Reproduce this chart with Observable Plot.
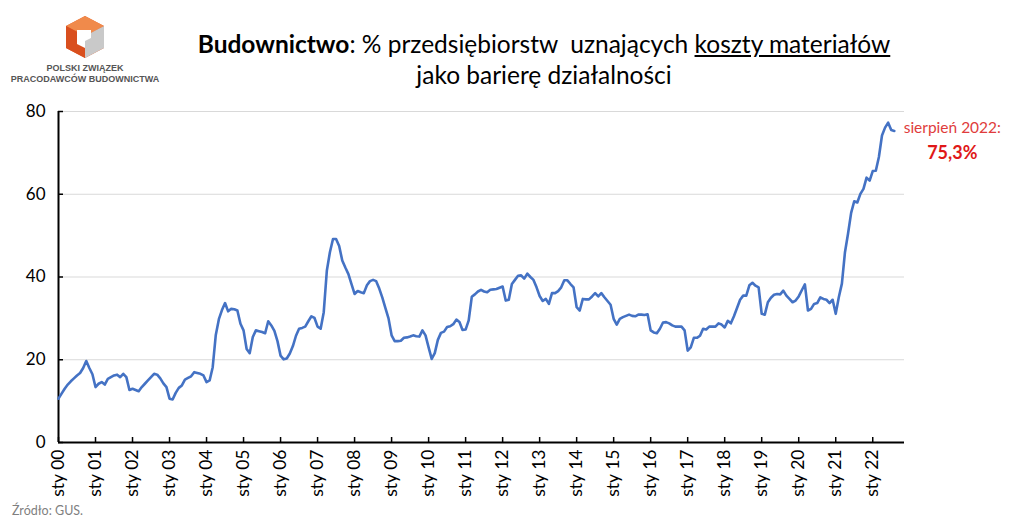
<!DOCTYPE html>
<html>
<head>
<meta charset="utf-8">
<script src="https://cdn.jsdelivr.net/npm/d3@7"></script>
<script src="https://cdn.jsdelivr.net/npm/@observablehq/plot@0.6"></script>
<style>
  html, body { margin: 0; padding: 0; background: #fff; }
  #wrap { position: relative; width: 1024px; height: 523px; font-family: Lato, "Liberation Sans", sans-serif; }
  #chart { position: absolute; left: 0; top: 0; }
  .title { position: absolute; left: 0; width: 1088px; text-align: center; font-size: 24.5px; color: #000; white-space: nowrap; }
  .src { position: absolute; left: 12px; top: 503px; font-size: 12.5px; color: #7f7f7f; }
  .logo-t { position: absolute; width: 170px; left: 0; text-align: center; font-family: "Liberation Sans", Arial, sans-serif; font-weight: bold; font-size: 9px; color: #555; white-space: nowrap; }
</style>
</head>
<body>
<div id="wrap">
  <div id="chart"></div>
  <svg style="position:absolute;left:62px;top:14px" width="46" height="46" viewBox="0 0 46 46">
    <polygon points="23,2 42,12 42,34 23,44 4,34 4,12" fill="#e8602c"/>
    <polygon points="23,2 42,12 23,22 4,12" fill="#f08a4b"/>
    <polygon points="42,12 42,34 23,44 23,22" fill="#c9c9c9"/>
    <polygon points="4,12 23,22 23,44 4,34" fill="#d94f1e"/>
    <polygon points="15,16 29,16 29,24 23,27 23,34 15,30" fill="#fff"/>
  </svg>
  <div class="logo-t" style="top:63px">POLSKI ZWIĄZEK</div>
  <div class="logo-t" style="top:74px">PRACODAWCÓW BUDOWNICTWA</div>
  <div class="title" style="top:29px"><b>Budownictwo</b>: % przedsiębiorstw&nbsp; uznających <u>koszty materiałów</u></div>
  <div class="title" style="top:60px">jako barierę działalności</div>
  <div class="src">Źródło: GUS.</div>
</div>
<script>
// Monthly share of firms citing material costs as a barrier (%), Jan 2000 – Aug 2022
const y2000 = [10.6, 11.8, 13.0, 14.0, 14.8, 15.5, 16.2, 16.8, 18.0, 19.7, 18.0, 16.5];
const y2001 = [13.4, 14.2, 14.6, 14.0, 15.4, 15.8, 16.2, 16.4, 15.8, 16.6, 15.8, 12.7];
const y2002 = [13.0, 12.7, 12.4, 13.4, 14.2, 15.0, 15.8, 16.6, 16.4, 15.5, 14.3, 13.4];
const y2003 = [10.6, 10.4, 12.0, 13.2, 13.8, 15.2, 15.6, 16.0, 17.0, 16.8, 16.6, 16.2];
const y2004 = [14.6, 15.0, 18.2, 26.0, 29.8, 32.0, 33.7, 31.7, 32.3, 32.2, 31.9, 28.7];
const y2005 = [27.1, 22.6, 21.6, 25.5, 27.1, 26.9, 26.7, 26.4, 29.3, 28.3, 27.0, 24.5];
const y2006 = [21.0, 20.1, 20.3, 21.5, 23.3, 25.8, 27.5, 27.7, 28.0, 29.3, 30.5, 30.1];
const y2007 = [28.0, 27.5, 31.5, 41.5, 46.0, 49.2, 49.2, 47.5, 44.0, 42.3, 40.7, 38.3];
const y2008 = [35.9, 36.6, 36.3, 36.1, 38.0, 39.0, 39.3, 39.0, 37.2, 35.0, 32.5, 30.0];
const y2009 = [25.9, 24.5, 24.5, 24.6, 25.3, 25.4, 25.6, 25.9, 25.7, 25.6, 27.1, 25.9];
const y2010 = [23.0, 20.2, 21.6, 24.8, 26.5, 26.8, 27.9, 28.1, 28.6, 29.7, 29.1, 27.2];
const y2011 = [27.3, 29.5, 35.2, 35.8, 36.5, 36.9, 36.5, 36.3, 36.9, 37.0, 37.1, 37.4];
const y2012 = [37.7, 34.3, 34.5, 38.3, 39.3, 40.3, 40.4, 39.6, 40.8, 40.0, 39.3, 37.5];
const y2013 = [35.4, 34.2, 34.7, 33.5, 36.1, 36.1, 36.6, 37.5, 39.2, 39.2, 38.3, 37.5];
const y2014 = [32.7, 31.9, 34.7, 34.6, 34.6, 35.3, 36.1, 35.3, 36.1, 35.1, 34.2, 33.3];
const y2015 = [29.9, 28.5, 29.9, 30.3, 30.6, 30.9, 30.6, 30.5, 30.9, 30.9, 30.8, 31.0];
const y2016 = [27.1, 26.6, 26.4, 27.5, 29.0, 29.1, 28.8, 28.3, 28.0, 28.0, 28.0, 27.1];
const y2017 = [22.2, 23.0, 25.3, 25.3, 25.8, 27.5, 27.3, 28.0, 28.0, 28.0, 28.8, 28.5];
const y2018 = [27.8, 29.4, 28.8, 30.5, 32.5, 34.5, 35.5, 35.5, 38.0, 38.6, 37.9, 37.5];
const y2019 = [31.1, 30.9, 33.9, 35.0, 35.7, 35.9, 35.8, 36.7, 35.5, 34.7, 33.9, 34.3];
const y2020 = [35.3, 36.8, 38.2, 31.9, 32.3, 33.5, 33.7, 35.1, 34.7, 34.5, 33.7, 34.5];
const y2021 = [31.1, 35.1, 38.4, 46.0, 50.5, 55.5, 58.3, 58.0, 60.1, 61.3, 64.0, 63.3];
const y2022 = [65.6, 65.7, 69.0, 74.2, 76.1, 77.3, 75.5, 75.3];

const xTickLabels = ["sty 00","sty 01","sty 02","sty 03","sty 04","sty 05","sty 06","sty 07","sty 08","sty 09","sty 10","sty 11",
                     "sty 12","sty 13","sty 14","sty 15","sty 16","sty 17","sty 18","sty 19","sty 20","sty 21","sty 22"];
const yTicks = [0, 20, 40, 60, 80];
const annotationLabel = "sierpień 2022:";

const values = [].concat(y2000,y2001,y2002,y2003,y2004,y2005,y2006,y2007,y2008,y2009,y2010,y2011,
                         y2012,y2013,y2014,y2015,y2016,y2017,y2018,y2019,y2020,y2021,y2022);
const data = values.map((v, i) => ({i, v}));
const last = data[data.length - 1];
const xTicks = xTickLabels.map((_, k) => k * 12);

const chart = Plot.plot({
  width: 1024,
  height: 523,
  marginLeft: 58,
  marginRight: 120,
  marginTop: 111,
  marginBottom: 81,
  style: {fontFamily: "Lato, 'Liberation Sans', sans-serif", background: "transparent", overflow: "visible"},
  x: {domain: [0, 274.3], axis: null},
  y: {domain: [0, 80], axis: null},
  marks: [
    Plot.gridY(yTicks.filter(d => d > 0), {stroke: "#d9d9d9", strokeOpacity: 1, strokeWidth: 1}),
    Plot.axisY(yTicks, {tickSize: -5, tickPadding: 18, fontSize: 17, tickFormat: d => d, label: null, color: "#000", strokeWidth: 1.5}),
    Plot.axisX(xTicks, {tickSize: -5, tickPadding: 12, tickRotate: -90, fontSize: 17.5, tickFormat: d => xTickLabels[d / 12], label: null, color: "#000", strokeWidth: 1.5}),
    Plot.ruleY([0], {stroke: "#000", strokeWidth: 2}),
    Plot.ruleX([0], {stroke: "#000", strokeWidth: 2}),
    Plot.line(data, {x: "i", y: "v", stroke: "#4472c4", strokeWidth: 2.6, curve: "linear"}),
    Plot.text([last], {x: "i", y: "v", text: () => annotationLabel, dx: 58, dy: -3, fill: "#e03c3c", fontSize: 15.5}),
    Plot.text([last], {x: "i", y: "v", text: d => d.v.toFixed(1).replace(".", ",") + "%", dx: 58, dy: 22, fill: "#e01818", fontSize: 18, fontWeight: "bold"})
  ]
});
document.getElementById("chart").appendChild(chart);
</script>
</body>
</html>
